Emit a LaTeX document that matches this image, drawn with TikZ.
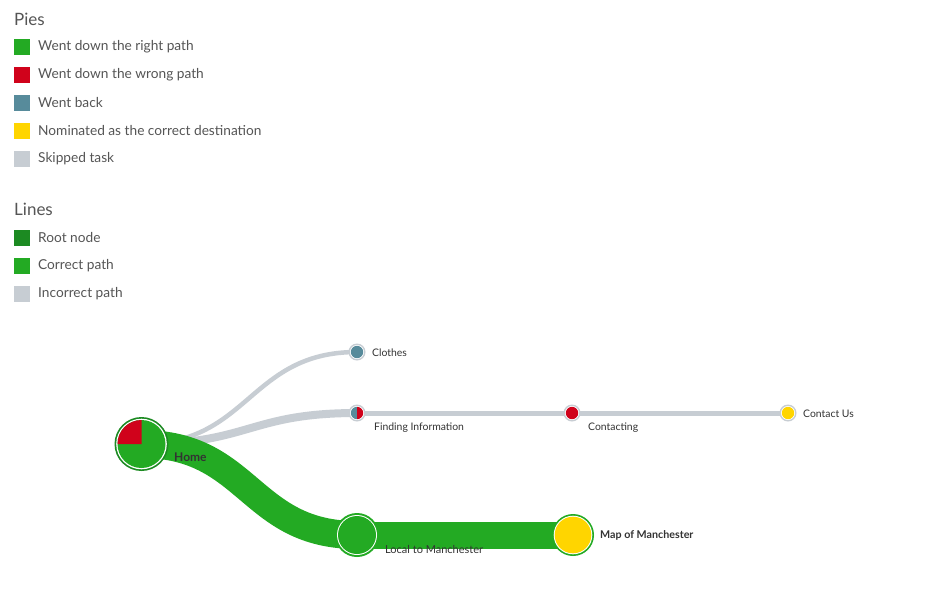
\documentclass[tikz,border=0pt]{standalone}
\usepackage{fontspec}
\setmainfont{Lato}
\definecolor{cgreen}{HTML}{23AA23}
\definecolor{cdkgreen}{HTML}{1C8A22}
\definecolor{cred}{HTML}{D0021B}
\definecolor{cteal}{HTML}{578B9B}
\definecolor{cyellow}{HTML}{FFD500}
\definecolor{cgrey}{HTML}{C7CDD3}
\definecolor{ctext}{HTML}{555555}
\definecolor{cdark}{HTML}{333333}
\tikzset{
  swatch/.style={fill=#1, draw=none, minimum size=16pt, inner sep=0pt, anchor=north west},
  legtext/.style={text=ctext, font=\fontsize{13.7}{16}\selectfont, anchor=west, inner sep=0pt},
  headtext/.style={text=ctext, font=\fontsize{17}{20}\selectfont, anchor=west, inner sep=0pt},
  lbl/.style={text=cdark, font=\fontsize{10.4}{12}\selectfont, anchor=west, inner sep=0pt},
  boldlbl/.style={text=cdark, font=\fontsize{10.7}{12}\selectfont\bfseries, anchor=west, inner sep=0pt},
  greylink/.style={draw=cgrey, line width=#1},
  greenlink/.style={draw=cgreen, line width=#1},
  curve/.style={out=0, in=180, out distance=#1, in distance=#1}
}
\begin{document}
\begin{tikzpicture}[x=1pt,y=-1pt]
\useasboundingbox[fill=white] (0,0) rectangle (944,608);
% ---------- legend ----------
\node[headtext] (pies) at (14,19) {Pies};
\node[swatch=cgreen] (s1) at (14,38.5) {};
\node[legtext] (t1) at (38,47) {Went down the right path};
\node[swatch=cred] (s2) at (14,66.5) {};
\node[legtext] (t2) at (38,75) {Went down the wrong path};
\node[swatch=cteal] (s3) at (14,94.5) {};
\node[legtext] (t3) at (38,103) {Went back};
\node[swatch=cyellow] (s4) at (14,122.5) {};
\node[legtext] (t4) at (38,131) {Nominated as the correct destination};
\node[swatch=cgrey] (s5) at (14,150.5) {};
\node[legtext] (t5) at (38,159) {Skipped task};
\node[headtext] (lines) at (14,209) {Lines};
\node[swatch=cdkgreen] (s6) at (14,229.5) {};
\node[legtext] (t6) at (38,238) {Root node};
\node[swatch=cgreen] (s7) at (14,257.5) {};
\node[legtext] (t7) at (38,266) {Correct path};
\node[swatch=cgrey] (s8) at (14,285.5) {};
\node[legtext] (t8) at (38,294) {Incorrect path};
% ---------- node centres ----------
\coordinate (home) at (141.5,444);
\coordinate (clothes) at (357,352);
\coordinate (finding) at (357,413);
\coordinate (contacting) at (572,413);
\coordinate (contactus) at (788,413);
\coordinate (local) at (357,535);
\coordinate (map) at (573,535);
% ---------- links ----------
\draw[greylink=4.5] (home) to[curve=108] (clothes);
\draw[greylink=8] (home) to[curve=108] (finding);
\draw[greylink=5] (finding) -- (contacting);
\draw[greylink=5] (contacting) -- (contactus);
\draw[greenlink=28] (home) to[curve=108] (local);
\draw[greenlink=27] (local) -- (map);
% ---------- home pie ----------
\fill[cdkgreen] (home) circle[radius=27];
\fill[white] (home) circle[radius=25.3];
\fill[cgreen] (home) circle[radius=24];
\fill[cred] (home) -- ++(-24,0) arc[start angle=180, end angle=270, radius=24] -- cycle;
% ---------- local / map ----------
\fill[cgreen] (local) circle[radius=22];
\fill[white] (local) circle[radius=20];
\fill[cgreen] (local) circle[radius=19];
\fill[cgreen] (map) circle[radius=21];
\fill[white] (map) circle[radius=19.3];
\fill[cyellow] (map) circle[radius=18.3];
% ---------- small pies ----------
\foreach \n/\c in {clothes/cteal, contacting/cred, contactus/cyellow}{
  \fill[cgrey] (\n) circle[radius=8.5];
  \fill[white] (\n) circle[radius=7];
  \fill[\c] (\n) circle[radius=6.2];
}
\fill[cgrey] (finding) circle[radius=8.5];
\fill[white] (finding) circle[radius=7];
\fill[cteal] (finding) -- ++(0,-6.2) arc[start angle=270, end angle=90, radius=6.2] -- cycle;
\fill[cred] (finding) -- ++(0,-6.2) arc[start angle=-90, end angle=90, radius=6.2] -- cycle;
% ---------- labels ----------
\node[lbl] (lclothes) at (372,352.5) {Clothes};
\node[lbl] (lfinding) at (374,428) {Finding Information};
\node[lbl] (lcontacting) at (588,428) {Contacting};
\node[lbl] (lcontactus) at (803,413.5) {Contact Us};
\node[boldlbl, font=\fontsize{12}{14}\selectfont\bfseries] (lhome) at (174,457.5) {Home};
\node[lbl, font=\fontsize{11}{13}\selectfont] (llocal) at (385,549) {Local to Manchester};
\node[boldlbl] (lmap) at (600,535) {Map of Manchester};
\end{tikzpicture}
\end{document}
